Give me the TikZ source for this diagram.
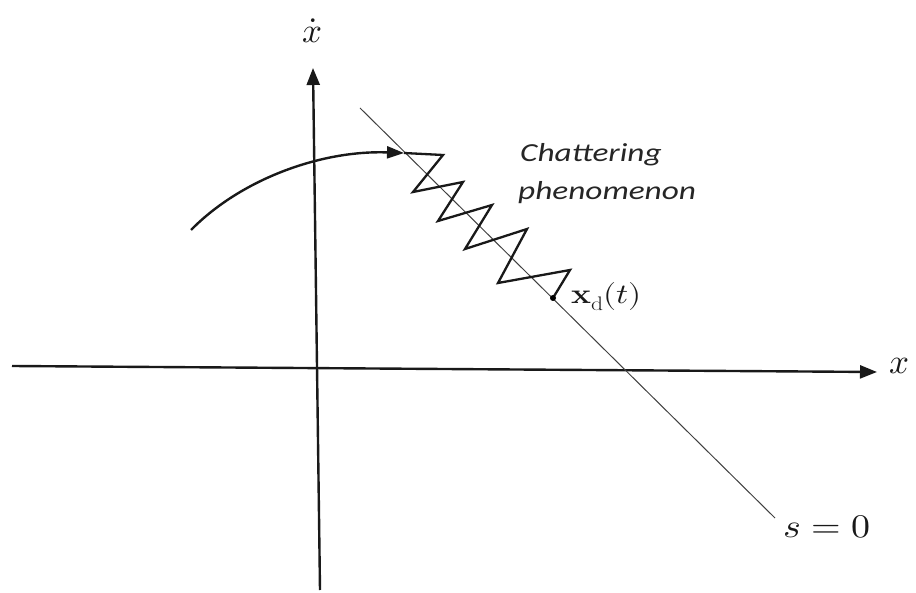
\documentclass[tikz,border=0pt]{standalone}
\usepackage{fontspec}
\usepackage{unicode-math}
\setmathfont{Latin Modern Math}
\usepackage{graphicx}
\newfontfamily\calib{Carlito}
\usetikzlibrary{arrows.meta}
\begin{document}
\begin{tikzpicture}[x=1pt,y=-1pt,
  axisline/.style={line width=2.4pt, draw=black!90, -{Triangle[length=17pt,width=13pt]}},
  slideline/.style={line width=1pt, draw=black!75},
  traj/.style={line width=2.4pt, draw=black!90},
  zig/.style={line width=2.3pt, draw=black!90, line join=miter},
  lbl/.style={inner sep=0pt, text=black!90},
]
\useasboundingbox (0,0) rectangle (916,593);
% axes
\coordinate (xl) at (12,366);
\coordinate (xr) at (877,372);
\coordinate (yb) at (320,590);
\coordinate (yt) at (313,68);
\draw[axisline] (xl) -- (xr);
\draw[axisline] (yb) -- (yt);
\node[lbl, font=\fontsize{35}{40}\selectfont] (xlab) at (900,366) {$x$};
\node[lbl, font=\fontsize{35}{40}\selectfont] (ylab) at (312,31) {$\dot{x}$};
% sliding surface
\coordinate (s1) at (360,108);
\coordinate (s2) at (775,518);
\draw[slideline] (s1) -- (s2);
\node[lbl, font=\fontsize{33}{38}\selectfont, anchor=west] (slab) at (783,527) {\scalebox{1.15}[1]{$s=0$}};
% trajectory
\coordinate (c0) at (191,230);
\coordinate (c1) at (404,153);
\draw[traj, -{Triangle[length=17pt,width=12pt]}] (c0) .. controls (240,180) and (320,150) .. (c1);
% chattering zigzag
\coordinate (xd) at (553,298);
\draw[zig] (c1) -- (443,155) -- (413,192) -- (463,182) -- (438,221) -- (492,205)
  -- (465,249) -- (527,229) -- (498,283) -- (570,270) -- (xd);
\fill[black] (xd) circle (3pt);
\node[lbl, font=\fontsize{28}{32}\selectfont, anchor=west] (xdlab) at (571,297) {\scalebox{1.2}[1]{$\mathbf{x}_{\mathrm{d}}(t)$}};
% text
\node[lbl, font=\calib\itshape\fontsize{26}{30}\selectfont, anchor=west, text=black!85] (chat) at (520,155) {\scalebox{1.28}[1]{Chattering}};
\node[lbl, font=\calib\itshape\fontsize{26}{30}\selectfont, anchor=west, text=black!85] (phen) at (518,193) {\scalebox{1.28}[1]{phenomenon}};
\end{tikzpicture}
\end{document}
